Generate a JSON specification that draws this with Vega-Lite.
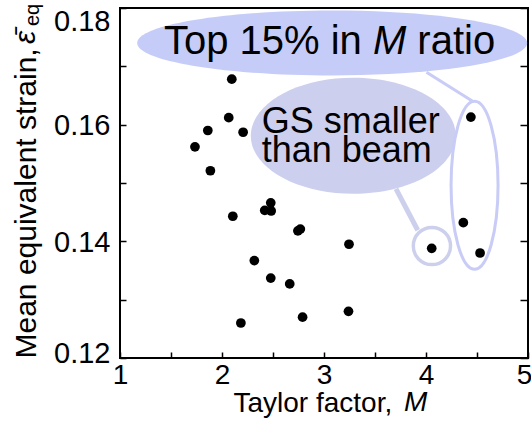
{
  "$schema": "https://vega.github.io/schema/vega-lite/v6.json",
  "width": 408,
  "height": 350,
  "autosize": "none",
  "padding": {"left": 120, "top": 8, "right": 3, "bottom": 63},
  "background": "white",
  "config": {
    "font": "Liberation Sans",
    "view": {"stroke": "black", "strokeWidth": 2},
    "axis": {
      "domain": false, "grid": false, "tickColor": "black", "tickWidth": 1.5,
      "labelColor": "black", "labelFont": "Liberation Sans", "labelFontSize": 28,
      "titleFont": "Liberation Sans", "titleFontSize": 28, "titleFontWeight": "normal", "titleColor": "black",
      "labelFlush": false
    },
    "text": {"font": "Liberation Sans", "color": "black"}
  },
  "datasets": {
    "points": [
      {"M": 2.096, "strain": 0.1678},
      {"M": 2.066, "strain": 0.1612},
      {"M": 1.861, "strain": 0.1590},
      {"M": 2.207, "strain": 0.1587},
      {"M": 1.735, "strain": 0.1562},
      {"M": 1.886, "strain": 0.1521},
      {"M": 2.106, "strain": 0.1443},
      {"M": 2.478, "strain": 0.1466},
      {"M": 2.419, "strain": 0.1453},
      {"M": 2.482, "strain": 0.1452},
      {"M": 2.744, "strain": 0.1418},
      {"M": 2.768, "strain": 0.1421},
      {"M": 3.245, "strain": 0.1395},
      {"M": 2.317, "strain": 0.1367},
      {"M": 2.478, "strain": 0.1337},
      {"M": 2.664, "strain": 0.1327},
      {"M": 3.240, "strain": 0.1280},
      {"M": 2.790, "strain": 0.1270},
      {"M": 2.185, "strain": 0.1260},
      {"M": 4.056, "strain": 0.1388},
      {"M": 4.440, "strain": 0.1613},
      {"M": 4.366, "strain": 0.1432},
      {"M": 4.530, "strain": 0.1380}
    ]
  },
  "layer": [
    {
      "data": {"values": [{"label": "Top 15% in M ratio"}]},
      "mark": {"type": "point", "shape": "M -1 0 A 1 0.1667 0 1 0 1 0 A 1 0.1667 0 1 0 -1 0 Z", "size": 152100, "filled": true, "color": "#c6ccf8", "opacity": 1, "strokeWidth": 0},
      "encoding": {
        "x": {"datum": 3.08, "type": "quantitative", "scale": {"domain": [1, 5], "nice": false, "zero": false}, "axis": null},
        "y": {"datum": 0.174, "type": "quantitative", "scale": {"domain": [0.12, 0.18], "nice": false, "zero": false},
              "axis": {"orient": "right", "labels": false, "values": [0.12, 0.13, 0.14, 0.15, 0.16, 0.17, 0.18], "tickSize": -8, "title": null}}
      }
    },
    {
      "data": {"values": [{"label": "GS smaller than beam"}]},
      "mark": {"type": "point", "shape": "M -1 0 A 1 0.566 0 1 0 1 0 A 1 0.566 0 1 0 -1 0 Z", "size": 42025, "filled": true, "color": "#cdcfee", "opacity": 1, "strokeWidth": 0},
      "encoding": {
        "x": {"datum": 3.287, "type": "quantitative", "scale": {"domain": [1, 5], "nice": false, "zero": false}, "axis": null},
        "y": {"datum": 0.1581, "type": "quantitative", "scale": {"domain": [0.12, 0.18], "nice": false, "zero": false}, "axis": null}
      }
    },
    {
      "data": {"values": [{"label": "top group"}]},
      "mark": {"type": "point", "shape": "M -1 0 A 1 3.574 0 1 0 1 0 A 1 3.574 0 1 0 -1 0 Z", "size": 2209, "filled": false, "stroke": "#c8ccf6", "strokeWidth": 3, "opacity": 1},
      "encoding": {
        "x": {"datum": 4.476, "type": "quantitative", "scale": {"domain": [1, 5], "nice": false, "zero": false}, "axis": null},
        "y": {"datum": 0.1496, "type": "quantitative", "scale": {"domain": [0.12, 0.18], "nice": false, "zero": false}, "axis": null}
      }
    },
    {
      "data": {"values": [{"label": "GS group"}]},
      "mark": {"type": "point", "shape": "circle", "size": 1385, "filled": false, "stroke": "#cdd0ec", "strokeWidth": 3.5, "opacity": 1},
      "encoding": {
        "x": {"datum": 4.058, "type": "quantitative", "scale": {"domain": [1, 5], "nice": false, "zero": false}, "axis": null},
        "y": {"datum": 0.1392, "type": "quantitative", "scale": {"domain": [0.12, 0.18], "nice": false, "zero": false}, "axis": null}
      }
    },
    {
      "data": {"values": [{"label": "connector top"}]},
      "mark": {"type": "rule", "stroke": "#c8ccf6", "strokeWidth": 3},
      "encoding": {
        "x": {"datum": 4.005, "type": "quantitative", "scale": {"domain": [1, 5], "nice": false, "zero": false}, "axis": null},
        "y": {"datum": 0.169, "type": "quantitative", "scale": {"domain": [0.12, 0.18], "nice": false, "zero": false}, "axis": null},
        "x2": {"datum": 4.469},
        "y2": {"datum": 0.1639}
      }
    },
    {
      "data": {"values": [{"label": "connector GS"}]},
      "mark": {"type": "rule", "stroke": "#cdd0ec", "strokeWidth": 5},
      "encoding": {
        "x": {"datum": 3.706, "type": "quantitative", "scale": {"domain": [1, 5], "nice": false, "zero": false}, "axis": null},
        "y": {"datum": 0.149, "type": "quantitative", "scale": {"domain": [0.12, 0.18], "nice": false, "zero": false}, "axis": null},
        "x2": {"datum": 3.919},
        "y2": {"datum": 0.1419}
      }
    },
    {
      "data": {"values": [{"label": "Top 15% in"}]},
      "mark": {"type": "text", "align": "right", "baseline": "alphabetic", "fontSize": 40, "dx": -11.1},
      "encoding": {
        "text": {"field": "label"},
        "x": {"datum": 3.48, "type": "quantitative", "scale": {"domain": [1, 5], "nice": false, "zero": false}, "axis": null},
        "y": {"datum": 0.1722, "type": "quantitative", "scale": {"domain": [0.12, 0.18], "nice": false, "zero": false}, "axis": null}
      }
    },
    {
      "data": {"values": [{"label": "M"}]},
      "mark": {"type": "text", "align": "left", "baseline": "alphabetic", "fontSize": 40, "fontStyle": "italic"},
      "encoding": {
        "text": {"field": "label"},
        "x": {"datum": 3.48, "type": "quantitative", "scale": {"domain": [1, 5], "nice": false, "zero": false}, "axis": null},
        "y": {"datum": 0.1722, "type": "quantitative", "scale": {"domain": [0.12, 0.18], "nice": false, "zero": false}, "axis": null}
      }
    },
    {
      "data": {"values": [{"label": "ratio"}]},
      "mark": {"type": "text", "align": "left", "baseline": "alphabetic", "fontSize": 40, "dx": 44.4},
      "encoding": {
        "text": {"field": "label"},
        "x": {"datum": 3.48, "type": "quantitative", "scale": {"domain": [1, 5], "nice": false, "zero": false}, "axis": null},
        "y": {"datum": 0.1722, "type": "quantitative", "scale": {"domain": [0.12, 0.18], "nice": false, "zero": false}, "axis": null}
      }
    },
    {
      "data": {"values": [{"label": "GS smaller"}]},
      "mark": {"type": "text", "align": "left", "baseline": "alphabetic", "fontSize": 36, "lineHeight": 29, "text": ["GS smaller", "than beam"]},
      "encoding": {
        "x": {"datum": 2.389, "type": "quantitative", "scale": {"domain": [1, 5], "nice": false, "zero": false}, "axis": null},
        "y": {"datum": 0.1585, "type": "quantitative", "scale": {"domain": [0.12, 0.18], "nice": false, "zero": false}, "axis": null}
      }
    },
    {
      "data": {"values": [{"label": "M"}]},
      "mark": {"type": "text", "align": "left", "baseline": "alphabetic", "fontSize": 28, "fontStyle": "italic", "dy": 53},
      "encoding": {
        "text": {"field": "label"},
        "x": {"datum": 3.784, "type": "quantitative", "scale": {"domain": [1, 5], "nice": false, "zero": false}, "axis": null},
        "y": {"datum": 0.12, "type": "quantitative", "scale": {"domain": [0.12, 0.18], "nice": false, "zero": false}, "axis": null}
      }
    },
    {
      "data": {"values": [{"label": "ε̄"}]},
      "mark": {"type": "text", "align": "left", "baseline": "alphabetic", "fontSize": 30, "fontStyle": "italic", "angle": 270, "dx": -36, "dy": -85},
      "encoding": {
        "text": {"field": "label"},
        "x": {"datum": 1, "type": "quantitative", "scale": {"domain": [1, 5], "nice": false, "zero": false}, "axis": null},
        "y": {"datum": 0.18, "type": "quantitative", "scale": {"domain": [0.12, 0.18], "nice": false, "zero": false}, "axis": null}
      }
    },
    {
      "data": {"values": [{"label": "eq"}]},
      "mark": {"type": "text", "align": "left", "baseline": "alphabetic", "fontSize": 20, "angle": 270, "dx": -18, "dy": -81},
      "encoding": {
        "text": {"field": "label"},
        "x": {"datum": 1, "type": "quantitative", "scale": {"domain": [1, 5], "nice": false, "zero": false}, "axis": null},
        "y": {"datum": 0.18, "type": "quantitative", "scale": {"domain": [0.12, 0.18], "nice": false, "zero": false}, "axis": null}
      }
    },
    {
      "data": {"name": "points"},
      "mark": {"type": "point", "filled": true, "color": "black", "opacity": 1, "size": 95, "strokeWidth": 0},
      "encoding": {
        "x": {"field": "M", "type": "quantitative", "scale": {"domain": [1, 5], "nice": false, "zero": false},
              "axis": {"orient": "bottom", "values": [1, 1.5, 2, 2.5, 3, 3.5, 4, 4.5, 5],
                       "labelExpr": "datum.value % 1 == 0 ? format(datum.value, 'd') : ''",
                       "tickSize": -6, "labelPadding": 9,
                       "labelOffset": {"condition": {"test": "datum.value > 4.9", "value": -4}, "value": 0},
                       "title": "Taylor factor,", "titleX": 113, "titleY": 53, "titleAlign": "left", "titleBaseline": "alphabetic"}},
        "y": {"field": "strain", "type": "quantitative", "scale": {"domain": [0.12, 0.18], "nice": false, "zero": false},
              "axis": {"orient": "left", "values": [0.12, 0.13, 0.14, 0.15, 0.16, 0.17, 0.18],
                       "labelExpr": "round(datum.value * 100) % 2 == 0 ? format(datum.value, '.2f') : ''",
                       "tickSize": -6, "labelPadding": 16, "labelFontSize": 29,
                       "labelOffset": {"condition": [{"test": "datum.value > 0.175", "value": 13}, {"test": "datum.value < 0.125", "value": -5}], "value": 1},
                       "title": "Mean equivalent strain,", "titleFontSize": 30, "titleX": -85, "titleY": 350, "titleAlign": "left", "titleAngle": 270, "titleBaseline": "alphabetic"}}
      }
    }
  ],
  "resolve": {"axis": {"x": "independent", "y": "independent"}}
}
